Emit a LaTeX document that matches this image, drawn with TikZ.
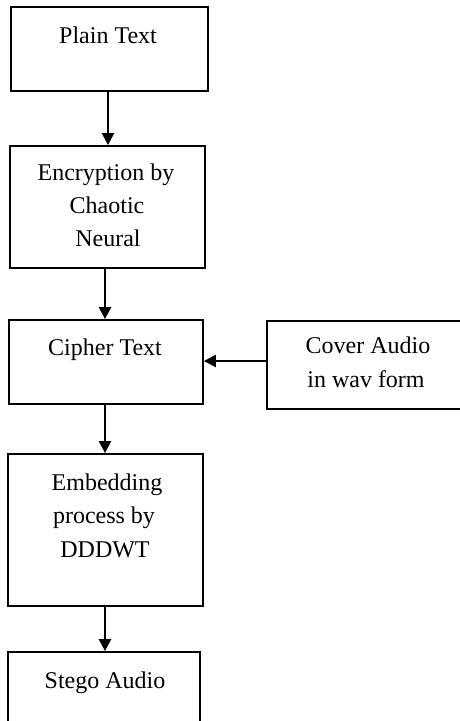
\documentclass[tikz,border=0pt]{standalone}
\usepackage{fontspec}
\setmainfont{Liberation Serif}
\usetikzlibrary{arrows.meta}
\begin{document}
\begin{tikzpicture}[x=1pt,y=-1pt,
  boxst/.style={draw=black, line width=1.8pt, rectangle},
  txt/.style={anchor=base, inner sep=0pt, font=\fontsize{24}{33}\selectfont},
  conn/.style={line width=2.4pt, -{Triangle[width=12pt,length=12pt]}}]
\useasboundingbox (0,0) rectangle (460,721);
\clip (0,0) rectangle (460,721);
% boxes
\node[boxst, minimum width=197pt, minimum height=84pt]  (b1) at (109.5,49) {};
\node[boxst, minimum width=195pt, minimum height=122pt] (b2) at (107.5,207) {};
\node[boxst, minimum width=194pt, minimum height=84pt]  (b3) at (106,362) {};
\node[boxst, minimum width=203pt, minimum height=88pt]  (b4) at (368.5,365) {};
\node[boxst, minimum width=195pt, minimum height=152pt] (b5) at (105.5,530) {};
\node[boxst, minimum width=192pt, minimum height=72pt]  (b6) at (104,688) {};
% texts
\node[txt] (t1) at (108,43) {Plain Text};
\node[txt] (t2a) at (106,180) {Encryption by};
\node[txt] (t2b) at (107,213) {Chaotic};
\node[txt] (t2c) at (108,246) {Neural};
\node[txt] (t3) at (105,355) {Cipher Text};
\node[txt] (t4a) at (368,353) {Cover Audio};
\node[txt] (t4b) at (366,387) {in wav form};
\node[txt] (t5a) at (107,490) {Embedding};
\node[txt] (t5b) at (104,523) {process by};
\node[txt] (t5c) at (105,557) {DDDWT};
\node[txt] (t6) at (105,688) {Stego Audio};
% connectors
\draw[conn] (b1.south -| t1) -- (t1 |- b2.north);
\draw[conn] (b2.south -| t3) -- (t3 |- b3.north);
\draw[conn] (b3.south -| t3) -- (t3 |- b5.north);
\draw[conn] (b5.south -| t6) -- (t6 |- b6.north);
\draw[conn] (b4.west |- b3.east) ++(0,-1) coordinate (c4) (c4) -- (c4 -| b3.east);
\end{tikzpicture}
\end{document}
